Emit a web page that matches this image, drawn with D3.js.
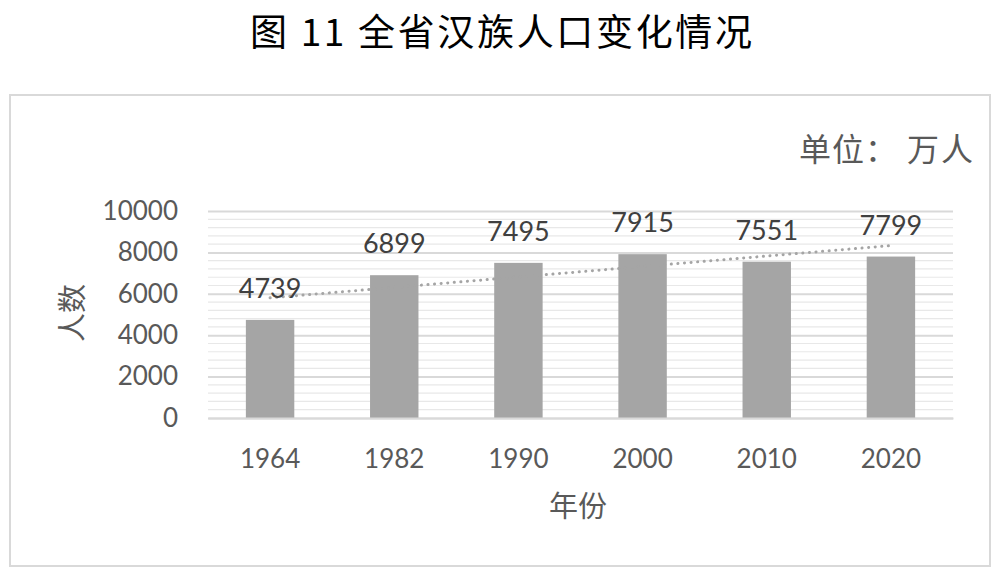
<!DOCTYPE html>
<html><head><meta charset="utf-8">
<script src="https://cdn.jsdelivr.net/npm/d3@7"></script>
<style>body{margin:0;background:#fff}svg{display:block}</style>
</head><body>
<svg id="c" width="1000" height="574"></svg>
<script>
const categories = ["1964","1982","1990","2000","2010","2020"];
const values = [4739, 6899, 7495, 7915, 7551, 7799];
const yTicks = [0, 2000, 4000, 6000, 8000, 10000];
const title = "图 11 全省汉族人口变化情况";
const unitLabel = "单位：";
const unitValue = "万人";
const xTitle = "年份";
const yTitle = "人数";

const svg = d3.select("#c");
const m = {l:208, r:953, t:211, b:418};
const x = d3.scaleBand().domain(categories).range([m.l, m.r]).paddingInner(0.61).paddingOuter(0.305);
const y = d3.scaleLinear().domain([0, 10000]).range([m.b, m.t]);
const latin = "Lato, 'Noto Sans CJK SC', sans-serif";
const cjk = "'Noto Sans CJK SC', sans-serif";

svg.append("text").attr("x", 250).attr("y", 46)
  .attr("textLength", 502).attr("lengthAdjust","spacing")
  .attr("font-family", cjk).attr("font-size", 37).attr("fill","#000")
  .text(title);

svg.append("rect").attr("x",10).attr("y",95).attr("width",980).attr("height",471)
  .attr("fill","none").attr("stroke","#d9d9d9").attr("stroke-width",2);

svg.append("text").attr("x", 975).attr("y", 161).attr("text-anchor","end")
  .attr("font-family", cjk).attr("font-size", 32).attr("fill","#595959").attr("letter-spacing",2)
  .text(unitValue);
svg.append("text").attr("x", 898).attr("y", 161).attr("text-anchor","end")
  .attr("font-family", cjk).attr("font-size", 32).attr("fill","#595959").attr("letter-spacing",1)
  .text(unitLabel);

// minor gridlines
const minor = d3.range(0, 10001, 400).filter(v => v % 2000 !== 0);
svg.append("g").selectAll("line").data(minor).join("line")
  .attr("x1", m.l).attr("x2", m.r).attr("y1", d => y(d)).attr("y2", d => y(d))
  .attr("stroke","#e8e8e8").attr("stroke-width",1.2);

// major gridlines + y tick labels
const yAxis = d3.axisLeft(y).tickValues(yTicks).tickSize(-(m.r - m.l)).tickFormat(d3.format("d"));
const ga = svg.append("g").attr("transform",`translate(${m.l},0)`).call(yAxis);
ga.select(".domain").remove();
ga.selectAll(".tick line").attr("stroke","#d9d9d9").attr("stroke-width",2);
ga.selectAll(".tick text").attr("font-family",latin).attr("font-size",26).attr("fill","#595959").attr("x",-30);

// bars
svg.append("g").selectAll("rect").data(values).join("rect")
  .attr("x",(d,i)=>x(categories[i])).attr("width",x.bandwidth())
  .attr("y",d=>y(d)).attr("height",d=>y(0)-y(d)).attr("fill","#a5a5a5");

// linear trendline (least squares over category index)
const n = values.length;
const xs = d3.range(n);
const mx = d3.mean(xs), my = d3.mean(values);
const slope = d3.sum(xs, (xi,i)=>(xi-mx)*(values[i]-my)) / d3.sum(xs, xi=>(xi-mx)*(xi-mx));
const icpt = my - slope*mx;
const cx = i => x(categories[i]) + x.bandwidth()/2;
svg.append("line")
  .attr("x1", cx(0)).attr("y1", y(icpt))
  .attr("x2", cx(n-1)).attr("y2", y(icpt + slope*(n-1)))
  .attr("stroke","#a5a5a5").attr("stroke-width",3).attr("stroke-dasharray","0.1 6.5").attr("stroke-linecap","round");

// data labels
svg.append("g").selectAll("text").data(values).join("text")
  .attr("x",(d,i)=>cx(i)).attr("y",d=>y(d)-22).attr("text-anchor","middle")
  .attr("font-family",latin).attr("font-size",27).attr("fill","#404040").text(d=>d);

// x axis
const xAxis = d3.axisBottom(x).tickSize(0).tickPadding(0);
const gx = svg.append("g").attr("transform",`translate(0,${m.b})`).call(xAxis);
gx.select(".domain").attr("stroke","#d9d9d9").attr("stroke-width",2);
gx.selectAll(".tick text").attr("font-family",latin).attr("font-size",26).attr("fill","#595959").attr("dy",0).attr("y",50);

svg.append("text").attr("x", 578).attr("y", 517).attr("text-anchor","middle")
  .attr("font-family", cjk).attr("font-size",29).attr("fill","#595959").text(xTitle);

svg.append("text").attr("transform","translate(83,313) rotate(-90)").attr("text-anchor","middle")
  .attr("font-family", cjk).attr("font-size",29).attr("fill","#595959").text(yTitle);
</script>
</body></html>
